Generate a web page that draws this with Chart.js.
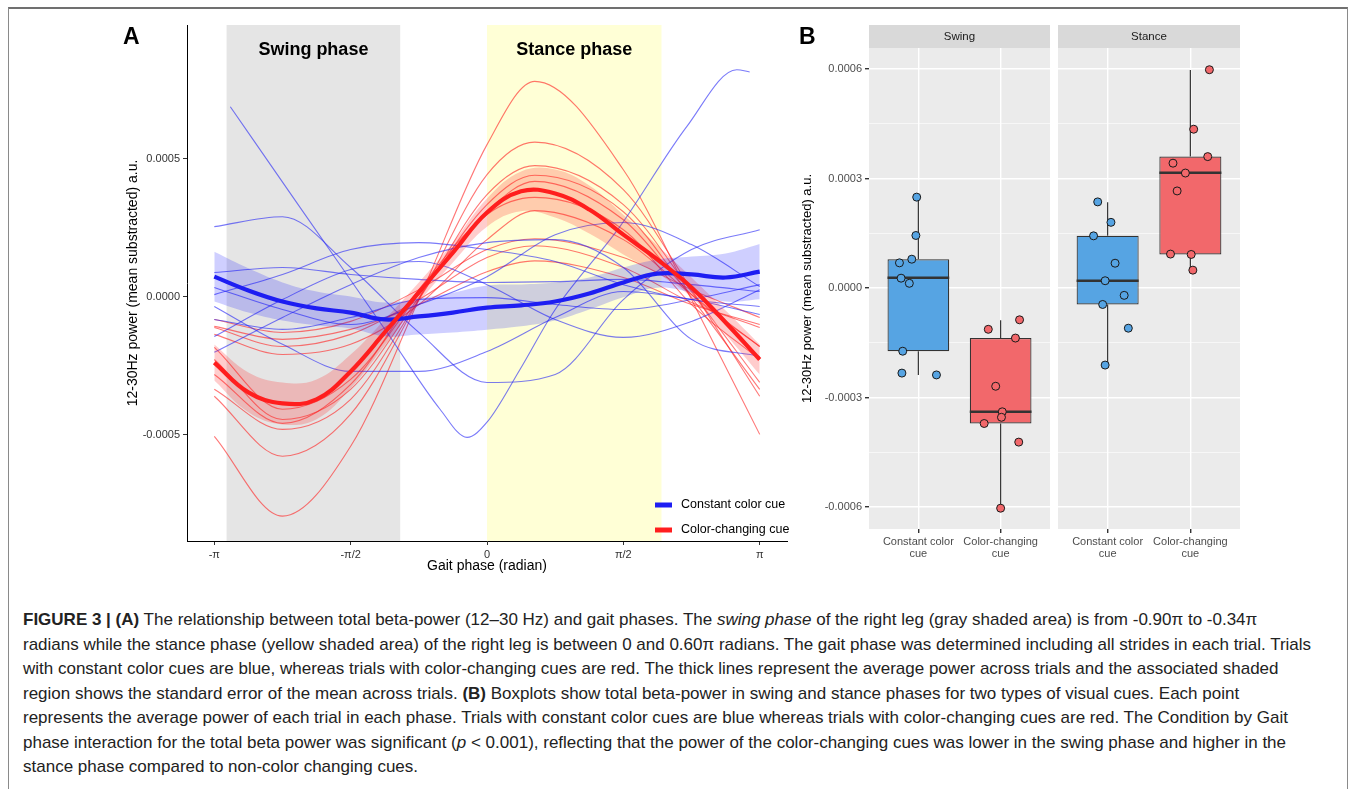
<!DOCTYPE html>
<html>
<head>
<meta charset="utf-8">
<script src="https://cdn.jsdelivr.net/npm/chart.js@4/dist/chart.umd.min.js"></script>
<style>
  body{margin:0;background:#fff;width:1355px;height:789px;overflow:hidden;position:relative;font-family:'Liberation Sans',Arial,sans-serif}
  #frame{position:absolute;left:8px;top:7px;width:1338px;height:800px;border-top:2px solid #707070;border-left:1px solid #8a8a8a;border-right:1px solid #8a8a8a}
  canvas{position:absolute;top:0}
  #cap{position:absolute;left:23px;top:608px;font-size:17px;line-height:24.5px;color:#222;white-space:nowrap}
</style>
</head>
<body>
<div id="frame"></div>
<canvas id="cA" width="800" height="600" style="left:0"></canvas>
<canvas id="cSwing" width="262" height="600" style="left:790px"></canvas>
<canvas id="cStance" width="186" height="600" style="left:1056px"></canvas>
<div id="cap">
<b>FIGURE 3 | (A)</b> The relationship between total beta-power (12–30 Hz) and gait phases. The <i>swing phase</i> of the right leg (gray shaded area) is from -0.90π to -0.34π<br>
radians while the stance phase (yellow shaded area) of the right leg is between 0 and 0.60π radians. The gait phase was determined including all strides in each trial. Trials<br>
with constant color cues are blue, whereas trials with color-changing cues are red. The thick lines represent the average power across trials and the associated shaded<br>
region shows the standard error of the mean across trials. <b>(B)</b> Boxplots show total beta-power in swing and stance phases for two types of visual cues. Each point<br>
represents the average power of each trial in each phase. Trials with constant color cues are blue whereas trials with color-changing cues are red. The Condition by Gait<br>
phase interaction for the total beta power was significant (<i>p</i> &lt; 0.001), reflecting that the power of the color-changing cues was lower in the swing phase and higher in the<br>
stance phase compared to non-color changing cues.
</div>
<script>
const $ = s => document.querySelector(s);
const BLUE='#1e1ef2', RED='#ff1e1e', BLUE_THIN='rgba(40,40,245,0.62)', RED_THIN='rgba(255,35,35,0.62)';
const BOX_BLUE='#56a4e3', BOX_RED='#f2686b', INK='#333';
const FONT="'Liberation Sans', Arial, sans-serif";

/* ---- panel A data ---- */
const phaseTicks = [-3.1416, -1.5708, 0, 1.5708, 3.1416];
const phaseTickLabels = ['-π', '-π/2', '0', 'π/2', 'π'];
const yTicksA = [-5e-4, 0, 5e-4];
const swingSpan = [-3.0, -1.0];
const stanceSpan = [0, 2.01];
const phaseNames = ['Swing phase', 'Stance phase'];
const legendNames = ['Constant color cue', 'Color-changing cue'];

const meanX = [-3.1416,-2.7489,-2.3562,-1.9635,-1.5708,-1.1781,-0.7854,-0.3927,0,0.3927,0.7854,1.1781,1.5708,1.9635,2.3562,2.7489,3.1416];
const meanBlue = [0.73e-4,0.23e-4,-0.17e-4,-0.42e-4,-0.57e-4,-0.82e-4,-0.71e-4,-0.57e-4,-0.39e-4,-0.31e-4,-0.17e-4,0.12e-4,0.52e-4,0.84e-4,0.81e-4,0.70e-4,0.91e-4];
const seBlue = [0.9e-4,0.8e-4,0.69e-4,0.61e-4,0.58e-4,0.61e-4,0.65e-4,0.72e-4,0.8e-4,0.76e-4,0.69e-4,0.58e-4,0.54e-4,0.51e-4,0.65e-4,0.87e-4,1.0e-4];
const meanRed = [-2.38e-4,-3.46e-4,-3.86e-4,-3.71e-4,-2.70e-4,-1.29e-4,0.16e-4,1.60e-4,3.05e-4,3.82e-4,3.74e-4,3.16e-4,2.25e-4,1.35e-4,0.34e-4,-0.93e-4,-2.27e-4];
const seRed = [0.65e-4,0.72e-4,0.76e-4,0.72e-4,0.61e-4,0.47e-4,0.36e-4,0.36e-4,0.51e-4,0.72e-4,0.87e-4,0.87e-4,0.72e-4,0.51e-4,0.36e-4,0.43e-4,0.54e-4];

const blueX = [-3.1416,-2.3562,-1.5708,-0.7854,0,0.7854,1.5708,2.3562,3.1416];
const redX = [-3.1416,-2.3562,-1.5708,-0.7854,0,0.55,1.5708,2.3562,3.1416];
// one constant-cue trial only covers part of the cycle
const steepX = [-2.957,-2.152,-1.151,-0.541,-0.230,0,0.380,0.771,1.531,2.301,2.877,3.026];
const steepY = [6.88e-4,3.23e-4,-1.29e-4,-4.07e-4,-5.09e-4,-4.54e-4,-2.63e-4,-0.53e-4,2.54e-4,6.16e-4,8.22e-4,8.14e-4];
const blueTrials = [
  [2.54e-4,2.90e-4,1.06e-4,-1.29e-4,-3.10e-4,-2.81e-4,-0.10e-4,1.71e-4,2.43e-4],
  [0.08e-4,0.81e-4,1.71e-4,1.96e-4,1.71e-4,1.28e-4,0.44e-4,-0.10e-4,-0.35e-4],
  [0.88e-4,1.06e-4,0.81e-4,0.63e-4,0.52e-4,0.55e-4,0.63e-4,0.44e-4,0.19e-4],
  [0.34e-4,-0.46e-4,-1.00e-4,-0.28e-4,0.73e-4,2.25e-4,2.69e-4,1.89e-4,0.37e-4],
  [-0.35e-4,-1.72e-4,-2.70e-4,-2.70e-4,-1.98e-4,-0.75e-4,0.19e-4,-0.10e-4,-0.64e-4],
  [-2.01e-4,-0.75e-4,0.44e-4,1.42e-4,1.96e-4,2.07e-4,1.06e-4,-1.54e-4,-2.16e-4],
  [-1.44e-4,-0.10e-4,0.99e-4,1.28e-4,0.44e-4,-0.82e-4,-1.47e-4,-0.89e-4,0.26e-4],
  [-0.82e-4,-1.18e-4,-0.75e-4,-0.10e-4,-0.03e-4,-0.28e-4,-0.46e-4,-0.10e-4,0.44e-4],
];
const redTrials = [
  [-5.05e-4,-7.94e-4,-5.41e-4,-0.10e-4,5.51e-4,7.80e-4,4.60e-4,-0.10e-4,-4.98e-4],
  [-3.60e-4,-5.77e-4,-4.25e-4,-0.10e-4,4.42e-4,5.60e-4,3.88e-4,0.26e-4,-3.60e-4],
  [-3.35e-4,-4.80e-4,-3.71e-4,-0.10e-4,3.70e-4,4.75e-4,3.34e-4,0.19e-4,-3.10e-4],
  [-2.27e-4,-4.44e-4,-3.35e-4,-0.03e-4,3.34e-4,4.40e-4,3.08e-4,-0.03e-4,-3.35e-4],
  [-1.83e-4,-4.07e-4,-2.99e-4,0.08e-4,3.08e-4,4.18e-4,2.79e-4,0.08e-4,-1.80e-4],
  [-2.81e-4,-4.58e-4,-3.17e-4,0.26e-4,2.98e-4,3.60e-4,2.43e-4,-0.28e-4,-2.27e-4],
  [-0.82e-4,-1.29e-4,-0.89e-4,0.26e-4,1.71e-4,2.10e-4,1.42e-4,0.26e-4,-0.75e-4],
  [-1.11e-4,-1.80e-4,-1.36e-4,-0.10e-4,1.42e-4,1.85e-4,1.06e-4,-0.21e-4,-1.11e-4],
  [-1.36e-4,-2.09e-4,-1.72e-4,-0.28e-4,2.07e-4,3.12e-4,2.07e-4,0.08e-4,-1.80e-4],
  [-1.07e-4,-1.54e-4,-1.18e-4,-0.28e-4,0.91e-4,1.30e-4,0.70e-4,-0.28e-4,-1.00e-4],
];

/* ---- panel B data ---- */
const cueLabels = [['Constant color','cue'], ['Color-changing','cue']];
const yTicksB = [-6e-4,-4.5e-4,-3e-4,-1.5e-4,0,1.5e-4,3e-4,4.5e-4,6e-4];
// [lower whisker, Q1, median, Q3, upper whisker]
const swingConstBox = [-2.38e-4,-1.73e-4,0.28e-4,0.79e-4,2.50e-4];
const swingChangeBox = [-6.03e-4,-3.71e-4,-3.39e-4,-1.37e-4,-0.88e-4];
const stanceConstBox = [-2.11e-4,-0.45e-4,0.20e-4,1.43e-4,2.35e-4];
const stanceChangeBox = [0.49e-4,0.92e-4,3.16e-4,3.60e-4,5.97e-4];
const swingConstPts = [2.49e-4,1.44e-4,0.79e-4,0.69e-4,0.27e-4,0.13e-4,-1.73e-4,-2.33e-4,-2.38e-4];
const swingConstJit = [-0.02,-0.03,-0.08,-0.23,-0.21,-0.11,-0.19,-0.20,0.22];
const swingChangePts = [-1.13e-4,-0.87e-4,-1.37e-4,-2.69e-4,-3.39e-4,-3.54e-4,-3.71e-4,-4.22e-4,-6.03e-4];
const swingChangeJit = [-0.15,0.23,0.18,-0.06,0.02,0.01,-0.20,0.22,0];
const stanceConstPts = [2.36e-4,1.80e-4,1.43e-4,0.68e-4,0.20e-4,-0.20e-4,-0.45e-4,-1.10e-4,-2.11e-4];
const stanceConstJit = [-0.12,0.04,-0.17,0.09,-0.03,0.20,-0.06,0.25,-0.03];
const stanceChangePts = [5.98e-4,4.35e-4,3.60e-4,3.42e-4,3.15e-4,2.66e-4,0.93e-4,0.92e-4,0.49e-4];
const stanceChangeJit = [0.23,0.04,0.21,-0.21,-0.06,-0.16,-0.24,0.01,0.03];

const pts = (xs, ys) => xs.map((x, i) => ({x, y: ys[i]}));
const shift = (ys, se, s) => ys.map((v, i) => v + s * se[i]);
const line = (data, color, w, order, extra) => Object.assign(
  {type:'line', data, borderColor:color, borderWidth:w, pointRadius:0, fill:false,
   cubicInterpolationMode:'monotone', order}, extra || {});
const smooth = {cubicInterpolationMode:'default', tension:0.4};

/* ---- Panel A ---- */
(() => {
  const ds = [
    line(pts(meanX, meanRed), RED, 4.2, 0, smooth),
    line(pts(meanX, meanBlue), BLUE, 4.2, 0, smooth),
    line(pts(meanX, shift(meanBlue, seBlue, -1)), 'rgba(0,0,0,0)', 0, 1, smooth),
    line(pts(meanX, shift(meanBlue, seBlue, 1)), 'rgba(0,0,0,0)', 0, 1, Object.assign({fill:'-1', backgroundColor:'rgba(0,0,255,0.19)'}, smooth)),
    line(pts(meanX, shift(meanRed, seRed, -1)), 'rgba(0,0,0,0)', 0, 1, smooth),
    line(pts(meanX, shift(meanRed, seRed, 1)), 'rgba(0,0,0,0)', 0, 1, Object.assign({fill:'-1', backgroundColor:'rgba(255,40,40,0.24)'}, smooth)),
    line(pts(steepX, steepY), BLUE_THIN, 1.1, 2),
  ];
  blueTrials.forEach(t => ds.push(line(pts(blueX, t), BLUE_THIN, 1.1, 2)));
  redTrials.forEach(t => ds.push(line(pts(redX, t), RED_THIN, 1.1, 2)));

  const phases = {
    id:'phases',
    beforeDraw(chart){
      const {ctx, chartArea:a, scales:{x}} = chart;
      ctx.save();
      [[swingSpan,'#e5e5e5'],[stanceSpan,'#ffffd6']].forEach(([sp,c]) => {
        const p0 = x.getPixelForValue(sp[0]), p1 = x.getPixelForValue(sp[1]);
        ctx.fillStyle = c; ctx.fillRect(p0, a.top, p1 - p0, a.bottom - a.top);
      });
      ctx.restore();
    },
    afterDraw(chart){
      const {ctx, scales:{x}} = chart;
      ctx.save();
      ctx.fillStyle = '#000'; ctx.textBaseline = 'middle';
      ctx.font = `bold 23px ${FONT}`; ctx.textAlign = 'left';
      ctx.fillText('A', 123, 38);
      ctx.font = `bold 18px ${FONT}`; ctx.textAlign = 'center';
      [swingSpan, stanceSpan].forEach((sp, i) =>
        ctx.fillText(phaseNames[i], (x.getPixelForValue(sp[0]) + x.getPixelForValue(sp[1])) / 2, 50));
      ctx.font = `12.5px ${FONT}`; ctx.textAlign = 'left';
      [BLUE, RED].forEach((c, i) => {
        const y = 505 + i * 25;
        ctx.strokeStyle = c; ctx.lineWidth = 5;
        ctx.beginPath(); ctx.moveTo(655, y); ctx.lineTo(672, y); ctx.stroke();
        ctx.fillText(legendNames[i], 681, y);
      });
      ctx.restore();
    }
  };

  new Chart($('#cA'), {
    type:'scatter',
    data:{datasets:ds},
    options:{
      responsive:false, animation:false, events:[],
      layout:{autoPadding:false, padding:{left:121, right:13, top:25, bottom:21}},
      plugins:{legend:{display:false}, tooltip:{enabled:false}},
      scales:{
        x:{type:'linear', min:-3.456, max:3.456,
          afterBuildTicks:s => { s.ticks = phaseTicks.map(v => ({value:v})); },
          afterFit:s => { s.height = 38; },
          ticks:{callback:(v, i) => phaseTickLabels[i], font:{size:11, family:FONT}, color:INK, maxRotation:0, padding:3},
          grid:{drawOnChartArea:false, tickLength:4, tickColor:INK},
          border:{display:true, color:'#000', width:1},
          title:{display:true, text:'Gait phase (radian)', font:{size:14, family:FONT}, color:'#000', padding:{top:2,bottom:4}}},
        y:{min:-8.84e-4, max:9.84e-4,
          afterBuildTicks:s => { s.ticks = yTicksA.map(v => ({value:v})); },
          afterFit:s => { s.width = 66; },
          ticks:{callback:v => v.toFixed(4), font:{size:11, family:FONT}, color:INK, padding:3},
          grid:{drawOnChartArea:false, tickLength:4, tickColor:INK},
          border:{display:true, color:'#000', width:1},
          title:{display:true, text:'12-30Hz power (mean substracted) a.u.', font:{size:14, family:FONT}, color:'#000'}}
      }
    },
    plugins:[phases]
  });
})();

/* ---- Panel B: one chart per facet ---- */
const isMajor = v => Math.abs(v / 3e-4 - Math.round(v / 3e-4)) < 1e-6;
function facet(sel, strip, boxes, groups, first){
  const [bc, br] = boxes;
  const dots = [], dotFill = [];
  groups.forEach(([ys, jit, col], g) => ys.forEach((y, i) => { dots.push({x:g + 1 + jit[i], y}); dotFill.push(col); }));
  const half = 0.375;
  const medians = [{x:1-half,y:bc[2]},{x:1+half,y:bc[2]},{x:1.5,y:null},{x:2-half,y:br[2]},{x:2+half,y:br[2]}];
  const whiskers = [];
  [bc, br].forEach((b, g) => whiskers.push({x:g+1,y:b[0]},{x:g+1,y:b[1]},{x:g+1.1,y:null},{x:g+1,y:b[3]},{x:g+1,y:b[4]},{x:g+1.2,y:null}));
  const deco = {
    id:'facetBg',
    beforeDraw(chart){
      const {ctx, chartArea:a} = chart;
      ctx.save();
      ctx.fillStyle = '#ebebeb'; ctx.fillRect(a.left, a.top, a.right - a.left, a.bottom - a.top);
      ctx.fillStyle = '#d9d9d9'; ctx.fillRect(a.left, 25, a.right - a.left, a.top - 25);
      ctx.fillStyle = '#1a1a1a'; ctx.font = `11.5px ${FONT}`; ctx.textAlign = 'center'; ctx.textBaseline = 'middle';
      ctx.fillText(strip, (a.left + a.right) / 2, 37);
      if (first) { ctx.fillStyle = '#000'; ctx.font = `bold 23px ${FONT}`; ctx.textAlign = 'left'; ctx.fillText('B', 9, 38); }
      ctx.restore();
    }
  };
  new Chart($(sel), {
    type:'scatter',
    data:{datasets:[
      {type:'scatter', data:dots, backgroundColor:dotFill, borderColor:'#1a1a1a', borderWidth:1, pointRadius:4, order:0},
      {type:'line', data:medians, borderColor:INK, borderWidth:2.6, pointRadius:0, fill:false, spanGaps:false, order:1},
      {type:'bar', data:[{x:1,y:[bc[1],bc[3]]},{x:2,y:[br[1],br[3]]}], backgroundColor:[BOX_BLUE, BOX_RED],
        borderColor:INK, borderWidth:1.2, borderSkipped:false, barPercentage:0.75, categoryPercentage:1, order:2},
      {type:'line', data:whiskers, borderColor:INK, borderWidth:1.2, pointRadius:0, fill:false, spanGaps:false, order:3},
    ]},
    options:{
      responsive:false, animation:false, events:[],
      layout:{autoPadding:false, padding:{left:first ? 6 : 2, right:2, top:48, bottom:31}},
      plugins:{legend:{display:false}, tooltip:{enabled:false}},
      scales:{
        x:{type:'linear', min:0.4, max:2.6, offset:false,
          afterBuildTicks:s => { s.ticks = [{value:1},{value:2}]; },
          afterFit:s => { s.height = 40; s.paddingLeft = 0; s.paddingRight = 0; },
          ticks:{callback:(v, i) => cueLabels[i], font:{size:11, family:FONT, lineHeight:1.08}, color:'#4d4d4d', maxRotation:0, padding:3},
          grid:{color:'#fff', lineWidth:1.4, tickLength:4, tickColor:INK, offset:false},
          border:{display:false}},
        y:{min:-6.6e-4, max:6.575e-4,
          afterBuildTicks:s => { s.ticks = yTicksB.map(v => ({value:v})); },
          afterFit:s => { s.width = first ? 73 : 0; },
          ticks:{display:first, callback:v => isMajor(v) ? v.toFixed(4) : '', font:{size:11, family:FONT}, color:'#4d4d4d', padding:3},
          grid:{color:'#fff', lineWidth:c => isMajor(c.tick.value) ? 1.4 : 0.6, drawTicks:first, tickLength:4,
            tickColor:c => isMajor(c.tick.value) ? INK : 'rgba(0,0,0,0)'},
          border:{display:false},
          title:{display:first, text:'12-30Hz power (mean substracted) a.u.', font:{size:13, family:FONT}, color:'#000'}}
      }
    },
    plugins:[deco]
  });
}
facet('#cSwing', 'Swing', [swingConstBox, swingChangeBox],
  [[swingConstPts, swingConstJit, BOX_BLUE], [swingChangePts, swingChangeJit, BOX_RED]], true);
facet('#cStance', 'Stance', [stanceConstBox, stanceChangeBox],
  [[stanceConstPts, stanceConstJit, BOX_BLUE], [stanceChangePts, stanceChangeJit, BOX_RED]], false);
</script>
</body>
</html>
